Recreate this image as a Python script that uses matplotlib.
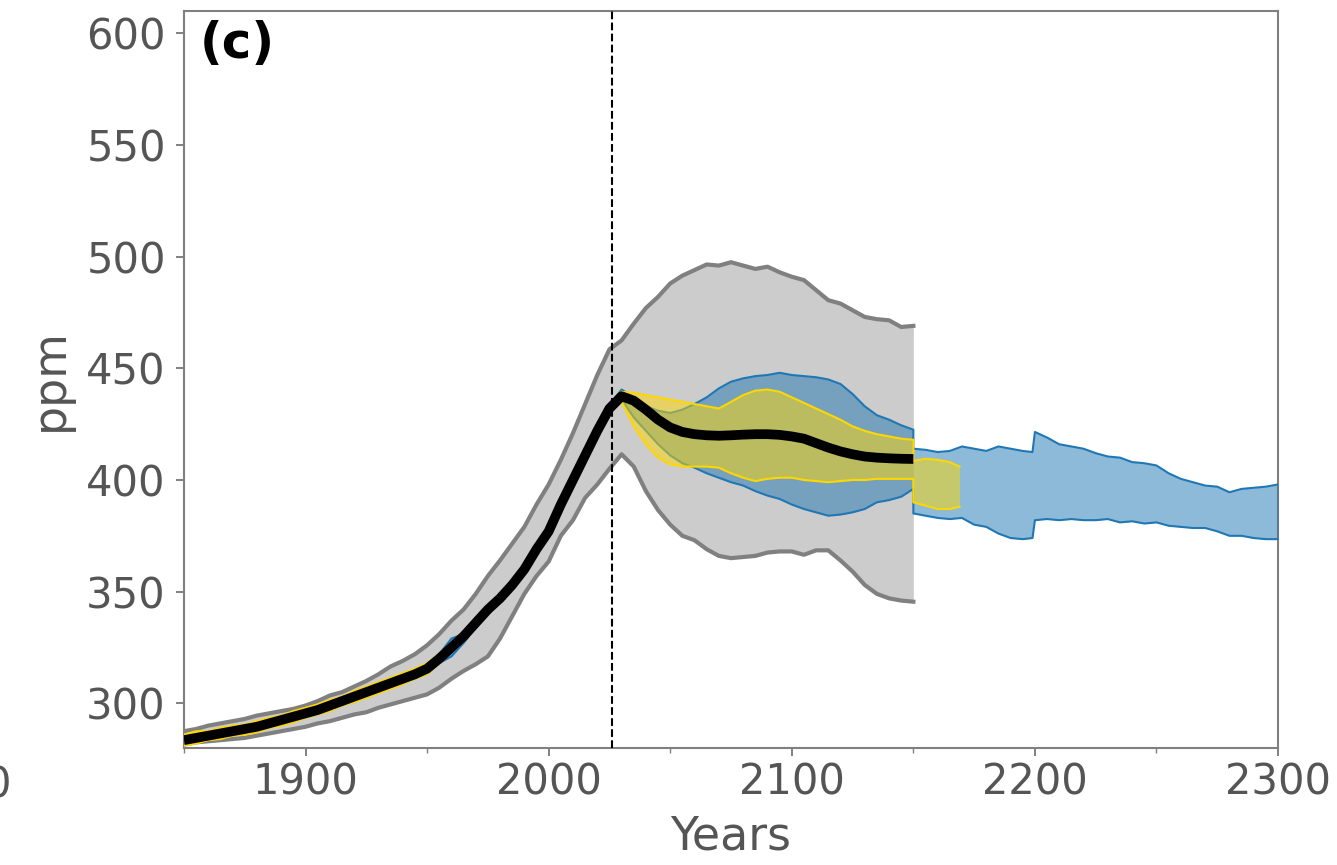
import numpy as np
import matplotlib
matplotlib.use("Agg")
import matplotlib.pyplot as plt
from matplotlib.ticker import MultipleLocator

# ---- data (ppm) ----
years = list(range(1850, 2151, 5))

median = [283.5, 284.5, 285.5, 286.5, 287.5, 288.5, 289.5, 291, 292.5, 294, 295.5,
          297, 299, 301, 303, 305, 307, 309, 311, 313, 315.5,
          320, 325, 330, 336, 342, 347, 353, 360, 369, 377,
          389, 400, 411, 422, 432, 437.5, 435.5, 431.5, 427, 423.5,
          421.5, 420.5, 420, 419.8, 420, 420.3, 420.5, 420.5, 420.2, 419.5,
          418.5, 416.5, 414.5, 412.8, 411.5, 410.5, 410, 409.7, 409.5, 409.4]

gray_hi = [287.5, 288.5, 290, 291, 292, 293, 294.5, 295.5, 296.5, 297.5, 299,
           301, 303.5, 305, 307.5, 310, 313, 316.5, 319, 322, 326,
           331, 337, 342, 349, 357, 364, 371.5, 379, 389, 398,
           409, 421, 434, 447, 458.5, 462.5, 470, 477, 482, 488,
           491.5, 494, 496.5, 496, 497.5, 496, 494.5, 495.5, 493, 491,
           489.5, 485, 480.5, 479, 476, 473, 472, 471.5, 468.5, 469]
gray_lo = [281.5, 282.5, 283, 283.5, 284, 284.5, 285.5, 286.5, 287.5, 288.5, 289.5,
           291, 292, 293.5, 295, 296, 298, 299.5, 301, 302.5, 304,
           307, 311, 314.5, 317.5, 321, 329, 339, 349, 357, 363.5,
           375, 382, 392, 398, 405, 411.5, 406, 395, 386.5, 380,
           375, 373, 369, 366, 365, 365.5, 366, 367.5, 368, 368,
           366.5, 368.5, 368.5, 364, 359, 353, 349, 347, 346, 345.5]

yellow_hi = [286, 287.5, 287.5, 289, 290, 290.5, 292, 293.5, 294.5, 296.5, 298,
             299.5, 301.5, 303, 305.5, 307.5, 309.5, 311.5, 313.5, 315.5, 318,
             322, 327, 332, 338, 344, 349, 355, 362, 371, 379,
             391, 402, 413, 424, 434, 439.5, 439, 438, 437, 436,
             435, 434, 433, 432, 435, 438, 440, 440.5, 439.5, 437,
             434.5, 432, 429.5, 427, 424, 422, 420.5, 419.5, 418.5, 418]
yellow_lo = [281, 282, 283.5, 284, 285.5, 286, 287, 289, 290, 291.5, 293.5,
             295, 296.5, 299, 300.5, 302.5, 304.5, 306.5, 308.5, 311, 313,
             318, 323, 328, 334, 340, 345, 351, 358, 367, 375,
             387, 398, 409, 420, 430, 435, 424, 416, 410, 407,
             406, 406, 406, 405.5, 403, 401, 399.5, 400.5, 401, 401,
             400, 399.5, 399, 399.5, 400, 400, 400.5, 400.5, 400.5, 400.5]
yellow_ext_years = [2150, 2155, 2160, 2165, 2169]
yellow_ext_hi = [408.5, 409.5, 409, 408, 406]
yellow_ext_lo = [390, 388.5, 387, 387, 388]

blue_hi = [285, 286, 287, 288, 289, 290, 291, 292.5, 294, 295.5, 297,
           298.5, 300.5, 302.5, 304.5, 306.5, 308.5, 310.5, 312.5, 315, 317,
           322, 329, 331, 337, 343, 348, 354, 361, 370, 378,
           390, 401, 412, 423, 433.5, 440.5, 437, 433, 431, 430,
           431.5, 434, 437, 441, 444, 445.5, 446.5, 447, 448, 447,
           446.5, 446, 445, 443, 438.5, 433, 429, 427, 424.5, 422.5]
blue_lo = [282, 283, 284, 285, 286, 287, 288, 289.5, 291, 292.5, 294,
           295.5, 297.5, 299.5, 301.5, 303.5, 305.5, 307.5, 309.5, 311, 314,
           318, 321, 327, 334, 340.5, 345.5, 351.5, 358.5, 367.5, 375.5,
           387.5, 398.5, 409.5, 420.5, 430.5, 436, 428, 422, 416, 411,
           407.5, 405.5, 403, 401, 399, 397.5, 395, 393, 391.5, 389,
           387, 385.5, 384, 384.5, 385.5, 387, 390, 391, 392.5, 396]
blue_ext_years = [2150, 2155, 2160, 2165, 2170, 2175, 2180, 2185, 2190, 2195, 2199,
                  2200, 2205, 2210, 2215, 2220, 2225, 2230, 2235, 2240, 2245, 2250,
                  2255, 2260, 2265, 2270, 2275, 2280, 2285, 2290, 2295, 2300]
blue_ext_hi = [414, 413.5, 412.5, 413, 415, 414, 413, 415, 414, 413, 412.5,
               421.5, 419, 416, 415, 414, 412, 410.5, 410, 408, 407.5, 406.5,
               403, 400.5, 399, 397.5, 397, 394.5, 396, 396.5, 397, 398]
blue_ext_lo = [385, 384, 383, 382.5, 383, 380, 379, 376, 374, 373.5, 374,
               382, 382.5, 382, 382.5, 382, 382, 382.5, 381, 381.5, 380.5, 381,
               379.5, 379, 378.5, 378.5, 377, 375, 375, 374, 373.5, 373.5]

present_year = 2026

GRAY_FILL = "#cccccc"
GRAY_LINE = "#808080"
BLUE = "#1f77b4"
YELLOW = "#ffd700"
TXT = "#555555"

fig = plt.figure(figsize=(13.37, 8.65), dpi=100)
ax = fig.add_axes([0.1376, 0.1353, 0.8183, 0.852])

# gray envelope
ax.fill_between(years, gray_lo, gray_hi, color=GRAY_FILL, lw=0, zorder=1)
ax.plot(years, gray_hi, color=GRAY_LINE, lw=3, zorder=2)
ax.plot(years, gray_lo, color=GRAY_LINE, lw=3, zorder=2)

# blue ensemble
bx = years + blue_ext_years
bhi = blue_hi + blue_ext_hi
blo = blue_lo + blue_ext_lo
ax.fill_between(bx, blo, bhi, color=BLUE, alpha=0.5, lw=0, zorder=3)
ax.plot(bx, bhi, color=BLUE, lw=1.5, zorder=4)
ax.plot(bx, blo, color=BLUE, lw=1.5, zorder=4)

# yellow ensemble
yx = years + yellow_ext_years
yhi = yellow_hi + yellow_ext_hi
ylo = yellow_lo + yellow_ext_lo
ax.fill_between(yx, ylo, yhi, color=YELLOW, alpha=0.5, lw=0, zorder=5)
ax.plot(yx, yhi, color=YELLOW, lw=1.5, zorder=6)
ax.plot(yx, ylo, color=YELLOW, lw=1.5, zorder=6)

ax.axvline(present_year, color="black", ls="--", lw=1.5, zorder=7)
ax.plot(years, median, color="black", lw=7, zorder=8, solid_capstyle="butt")

ax.set_xlim(1850, 2300)
ax.set_ylim(280, 610)
ax.xaxis.set_major_locator(MultipleLocator(100))
ax.xaxis.set_minor_locator(MultipleLocator(50))
ax.yaxis.set_major_locator(MultipleLocator(50))

for s in ax.spines.values():
    s.set_color(GRAY_LINE)
    s.set_linewidth(1.5)
ax.tick_params(which="major", length=6, width=1.4, color=GRAY_LINE,
               labelsize=30, labelcolor=TXT)
ax.tick_params(which="minor", length=3.6, width=1.0, color=GRAY_LINE)
ax.tick_params(axis="x", which="major", pad=4)
ax.tick_params(axis="y", which="major", pad=7)

ax.set_xlabel("Years", fontsize=33, color=TXT, labelpad=8)
ax.set_ylabel("ppm", fontsize=33, color=TXT, labelpad=10)
ax.text(0.014, 0.988, "(c)", transform=ax.transAxes, fontsize=36,
        fontweight="bold", va="top", ha="left")

# edge of the neighbouring panel's tick label, clipped by the left border
fig.text(11 / 1337, 1 - 785 / 865, "0", fontsize=30, color=TXT,
         ha="right", va="center")

fig.savefig("out.png", dpi=100)
